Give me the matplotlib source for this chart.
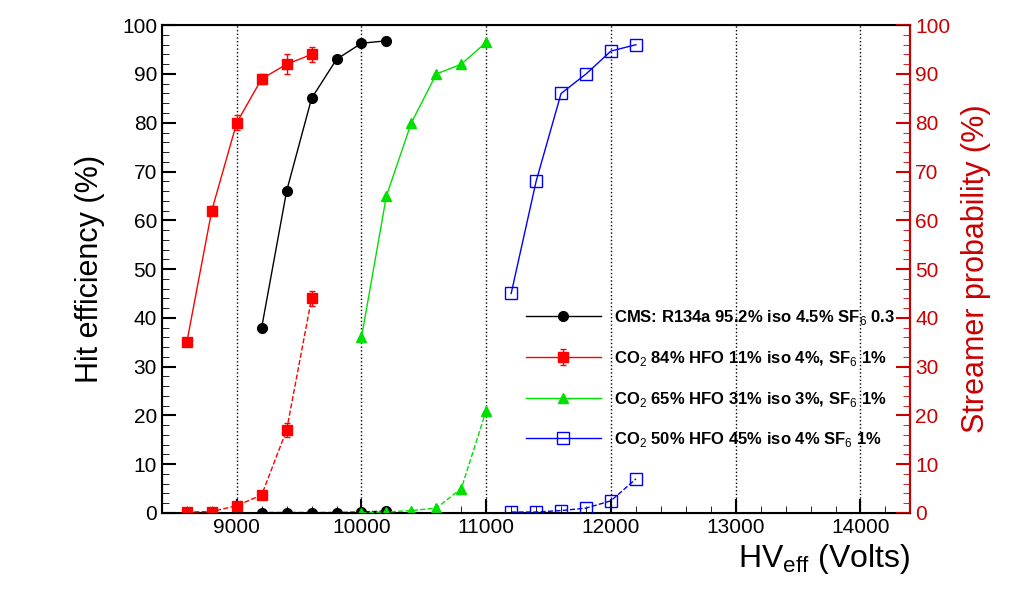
import matplotlib
matplotlib.use('Agg')
import matplotlib.pyplot as plt
from matplotlib.ticker import MultipleLocator

plt.rcParams['font.family'] = ['Liberation Sans', 'DejaVu Sans']
plt.rcParams['mathtext.fontset'] = 'custom'
plt.rcParams['mathtext.rm'] = 'Liberation Sans'
plt.rcParams['mathtext.bf'] = 'Liberation Sans:bold'

# Hit efficiency (solid) and streamer probability (dashed)
hv_cms = [9200, 9400, 9600, 9800, 10000, 10200]
eff_cms = [38, 66, 85, 93, 96.3, 96.8]
str_cms = [0.1, 0.1, 0.1, 0.1, 0.2, 0.4]

hv_84 = [8600, 8800, 9000, 9200, 9400, 9600]
eff_84 = [35, 62, 80, 89, 92, 94]
str_84 = [0.2, 0.3, 1.5, 3.7, 17, 44]
err_84 = [0.5, 1, 1.5, 1, 2, 1.5]
serr_84 = [0.2, 0.2, 0.5, 0.5, 1.5, 1.5]

hv_65 = [10000, 10200, 10400, 10600, 10800, 11000]
eff_65 = [36, 65, 80, 90, 92, 96.5]
str_65 = [0.1, 0.2, 0.5, 1.0, 5.0, 21]

hv_50 = [11200, 11400, 11600, 11800, 12000, 12200]
eff_50 = [45, 68, 86, 90, 94.7, 96]
str_50 = [0.2, 0.2, 0.5, 1.0, 2.5, 7]

labels = ['CMS: R134a 95.2% iso 4.5% SF$_6$ 0.3',
          'CO$_2$ 84% HFO 11% iso 4%, SF$_6$ 1%',
          'CO$_2$ 65% HFO 31% iso 3%, SF$_6$ 1%',
          'CO$_2$ 50% HFO 45% iso 4% SF$_6$ 1%']

fig = plt.figure(figsize=(10.31, 6.0), dpi=100)
ax = fig.add_axes([0.157, 0.145, 0.726, 0.813])

h1, = ax.plot(hv_cms, eff_cms, '-o', color='black', lw=1, ms=7, zorder=5)
ax.plot(hv_cms, str_cms, '--o', color='black', lw=1, ms=7, zorder=5)
h2 = ax.errorbar(hv_84, eff_84, yerr=err_84, fmt='-s', color='red', lw=1, ms=7,
                 capsize=2, zorder=5)
ax.errorbar(hv_84, str_84, yerr=serr_84, fmt='--s', color='red', lw=1, ms=7,
            capsize=2, zorder=5)
h3, = ax.plot(hv_65, eff_65, '-^', color='#00e000', lw=1, ms=7, zorder=5)
ax.plot(hv_65, str_65, '--^', color='#00e000', lw=1, ms=7, zorder=5)
h4, = ax.plot(hv_50, eff_50, '-s', color='blue', mfc='none', lw=1, ms=8, zorder=5)
ax.plot(hv_50, str_50, '--s', color='blue', mfc='none', lw=1, ms=8, zorder=5)

ax.set_xlim(8400, 14400)
ax.set_ylim(0, 100)
ax.xaxis.set_major_locator(MultipleLocator(1000))
ax.xaxis.set_minor_locator(MultipleLocator(200))
ax.yaxis.set_major_locator(MultipleLocator(10))
ax.yaxis.set_minor_locator(MultipleLocator(2))
ax.grid(True, axis='x', which='major', color='black', ls=':', lw=1)
ax.tick_params(which='both', direction='in', top=False, right=False, labelsize=15)
ax.tick_params(which='major', length=10, width=1.5)
ax.tick_params(which='minor', length=5)
for s in ax.spines.values():
    s.set_linewidth(1.5)
ax.set_xticks([9000, 10000, 11000, 12000, 13000, 14000])
ax.set_ylabel('Hit efficiency (%)', fontsize=22, labelpad=12)
ax.set_xlabel('HV$_{\\mathrm{eff}}$ (Volts)', fontsize=23, loc='right')

ax2 = ax.twinx()
ax2.set_ylim(0, 100)
ax2.yaxis.set_major_locator(MultipleLocator(10))
ax2.yaxis.set_minor_locator(MultipleLocator(2))
ax2.tick_params(which='both', direction='in', colors='#cc0000', labelsize=15)
ax2.tick_params(which='major', length=10, width=1.5)
ax2.tick_params(which='minor', length=5)
ax2.spines['right'].set_color('#cc0000')
ax2.spines['right'].set_linewidth(1.5)
ax2.set_ylabel('Streamer probability (%)', fontsize=22, color='#cc0000', labelpad=8)

leg = ax2.legend([h1, h2, h3, h4], labels, loc='lower right',
                 bbox_to_anchor=(1.0, 0.1), frameon=False,
                 handlelength=4.5, labelspacing=1.3,
                 prop={'family': 'Liberation Sans', 'weight': 'bold', 'size': 12})

fig.savefig('out.png', dpi=100)
